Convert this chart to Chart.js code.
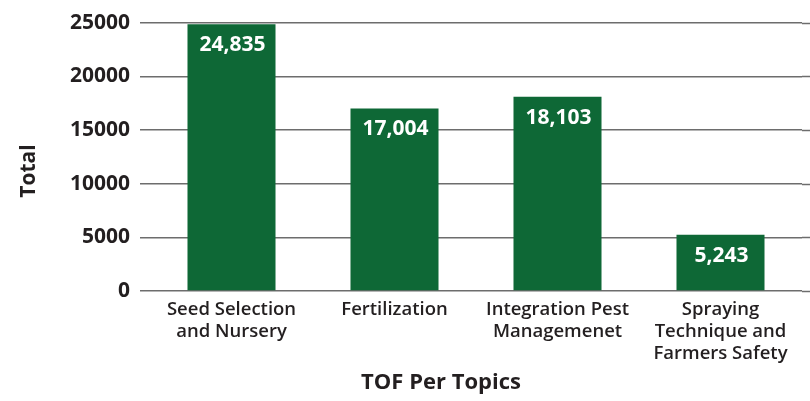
<!DOCTYPE html>
<html>
<head>
<meta charset="utf-8">
<script src="https://cdn.jsdelivr.net/npm/chart.js@4/dist/chart.umd.min.js"></script>
<style>
  html, body { margin: 0; padding: 0; background: #fff; }
  #wrap { width: 810px; height: 401px; position: relative; }
</style>
</head>
<body>
<div id="wrap"><canvas id="chart"></canvas></div>
<script>
// Training totals per topic
const topics = [
  ['Seed Selection', 'and Nursery'],
  ['Fertilization'],
  ['Integration Pest', 'Managemenet'],
  ['Spraying', 'Technique and', 'Farmers Safety']
];
const totals = [24835, 17004, 18103, 5243];
const yTicks = [0, 5000, 10000, 15000, 20000, 25000];
const xTitle = 'TOF Per Topics';
const yTitle = 'Total';

const green = '#0e6836';
const ink = '#231f20';

// Stretch the horizontal grid lines out to the right edge of the canvas
const gridExtend = {
  id: 'gridExtend',
  beforeDatasetsDraw(chart) {
    const { ctx, chartArea, scales } = chart;
    ctx.save();
    ctx.strokeStyle = '#6d6d6d';
    ctx.lineWidth = 1.5;
    yTicks.forEach(v => {
      const y = Math.round(scales.y.getPixelForValue(v)) + 0.5;
      ctx.beginPath();
      ctx.moveTo(chartArea.right, y);
      ctx.lineTo(chart.width, y);
      ctx.stroke();
    });
    ctx.restore();
  }
};

// White value label near the top of each bar
const barValues = {
  id: 'barValues',
  afterDatasetsDraw(chart) {
    const { ctx } = chart;
    const meta = chart.getDatasetMeta(0);
    ctx.save();
    ctx.fillStyle = '#ffffff';
    ctx.font = '700 21px "Open Sans"';
    ctx.textAlign = 'center';
    ctx.textBaseline = 'middle';
    meta.data.forEach((bar, i) => {
      ctx.fillText(totals[i].toLocaleString('en-US'), bar.x + 1, bar.y + 21);
    });
    ctx.restore();
  }
};

// Axis titles, placed by hand
const axisTitles = {
  id: 'axisTitles',
  afterDraw(chart) {
    const { ctx } = chart;
    ctx.save();
    ctx.fillStyle = ink;
    ctx.textAlign = 'center';
    ctx.textBaseline = 'middle';
    ctx.font = '700 22px "Open Sans"';
    ctx.fillText(xTitle, 441, 383);
    ctx.translate(29, 171);
    ctx.rotate(-Math.PI / 2);
    ctx.font = '700 21px "Open Sans"';
    ctx.fillText(yTitle, 0, 0);
    ctx.restore();
  }
};

new Chart(document.getElementById('chart'), {
  type: 'bar',
  data: {
    labels: topics,
    datasets: [{
      data: totals,
      backgroundColor: green,
      borderWidth: 0,
      categoryPercentage: 1,
      barPercentage: 0.54
    }]
  },
  options: {
    responsive: true,
    maintainAspectRatio: false,
    animation: false,
    layout: { padding: { top: 12, right: 8, left: 0, bottom: 0 } },
    plugins: {
      legend: { display: false },
      tooltip: { enabled: false }
    },
    scales: {
      x: {
        afterFit(scale) { scale.height = 110; },
        grid: { display: false, drawTicks: false },
        border: { display: false },
        ticks: {
          color: ink,
          padding: 8,
          maxRotation: 0,
          autoSkip: false,
          font: { family: 'Open Sans', size: 18.5, weight: '600', lineHeight: 1.19 }
        }
      },
      y: {
        min: 0,
        max: 25000,
        afterFit(scale) { scale.width = 150; },
        afterBuildTicks(scale) { scale.ticks = yTicks.map(v => ({ value: v })); },
        grid: {
          color: '#6d6d6d',
          lineWidth: 1.5,
          tickLength: 10,
          tickColor: '#6d6d6d'
        },
        border: { display: false },
        ticks: {
          color: ink,
          padding: 10,
          font: { family: 'Open Sans', size: 21, weight: '700' },
          callback: v => String(v)
        }
      }
    }
  },
  plugins: [gridExtend, barValues, axisTitles]
});
</script>
</body>
</html>
